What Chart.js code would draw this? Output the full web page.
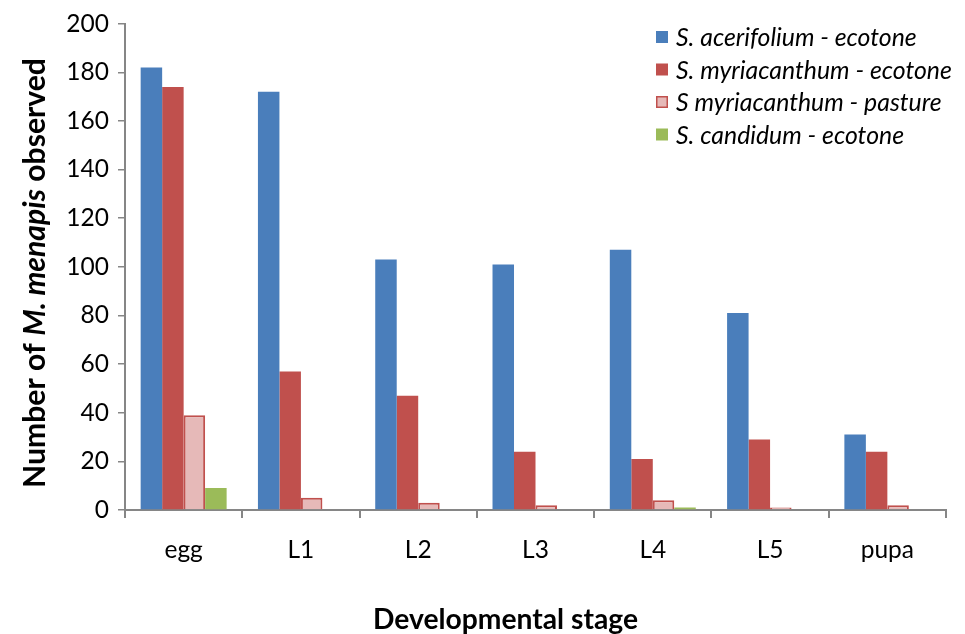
<!DOCTYPE html>
<html><head><meta charset="utf-8">
<script src="https://cdn.jsdelivr.net/npm/chart.js@4/dist/chart.umd.min.js"></script>
<style>html,body{margin:0;padding:0;background:#fff}#wrap{width:965px;height:634px}</style>
</head><body><div id="wrap"><canvas id="c" width="965" height="634"></canvas></div>
<script>
const categories = ["egg", "L1", "L2", "L3", "L4", "L5", "pupa"];
const seriesNames = ["S. acerifolium - ecotone", "S. myriacanthum - ecotone", "S myriacanthum - pasture", "S. candidum - ecotone"];
const acerifoliumEcotone = [182, 172, 103, 101, 107, 81, 31];
const myriacanthumEcotone = [174, 57, 47, 24, 21, 29, 24];
const myriacanthumPasture = [39, 5, 3, 2, 4, 1, 2];
const candidumEcotone = [9, 0, 0, 0, 1, 0, 0];
const yTicks = [0, 20, 40, 60, 80, 100, 120, 140, 160, 180, 200];
const xTitle = "Developmental stage";
const yTitleParts = [["Number of ", "normal"], ["M. menapis", "italic"], [" observed", "normal"]];

const FONT = "Lato, 'Open Sans', sans-serif";
const AXIS = "#868686";

function fitSize(ctx, texts, prefix, target) {
  ctx.save();
  let w = 0;
  texts.forEach(t => { ctx.font = (t[1] === "italic" ? "italic " : "") + prefix + " 100px " + FONT; w += ctx.measureText(t[0]).width; });
  ctx.restore();
  return 100 * target / w;
}

const legendPlugin = {
  id: 'customLegend',
  afterDraw(chart) {
    const ctx = chart.ctx;
    ctx.save();
    const size = fitSize(ctx, [[chart.data.datasets[1].label, "normal"]], "italic", 276);
    const x0 = 656, y0 = 37, step = 32.5;
    chart.data.datasets.forEach((ds, i) => {
      const y = y0 + i * step;
      ctx.fillStyle = ds.backgroundColor;
      ctx.fillRect(x0, y - 6, 12, 12);
      if (ds.borderWidth > 0) {
        ctx.strokeStyle = ds.borderColor;
        ctx.lineWidth = 1.5;
        ctx.strokeRect(x0 + 0.75, y - 5.25, 10.5, 10.5);
      }
      ctx.fillStyle = "#000";
      ctx.font = "italic " + size + "px " + FONT;
      ctx.textBaseline = "middle";
      ctx.textAlign = "left";
      ctx.fillText(ds.label, x0 + 20, y + 1);
    });
    ctx.restore();
  }
};

const titlesPlugin = {
  id: 'titles',
  afterDraw(chart) {
    const ctx = chart.ctx;
    ctx.save();
    ctx.fillStyle = "#000";
    ctx.textBaseline = "middle";
    ctx.textAlign = "center";
    const xs = fitSize(ctx, [[xTitle, "normal"]], "bold", 265);
    ctx.font = "bold " + xs + "px " + FONT;
    ctx.fillText(xTitle, 505.5, 620);
    const ys = fitSize(ctx, yTitleParts, "bold", 430);
    ctx.translate(35, 273);
    ctx.rotate(-Math.PI / 2);
    let total = 0;
    const widths = yTitleParts.map(p => {
      ctx.font = (p[1] === "italic" ? "italic " : "") + "bold " + ys + "px " + FONT;
      const w = ctx.measureText(p[0]).width; total += w; return w;
    });
    let x = -total / 2;
    ctx.textAlign = "left";
    yTitleParts.forEach((p, i) => {
      ctx.font = (p[1] === "italic" ? "italic " : "") + "bold " + ys + "px " + FONT;
      ctx.fillText(p[0], x, 0);
      x += widths[i];
    });
    ctx.restore();
  }
};

new Chart(document.getElementById('c'), {
  type: 'bar',
  data: {
    labels: categories,
    datasets: [
      { label: seriesNames[0], data: acerifoliumEcotone, backgroundColor: "#4A7EBB", borderColor: "#4A7EBB", borderWidth: 0 },
      { label: seriesNames[1], data: myriacanthumEcotone, backgroundColor: "#C0504D", borderColor: "#C0504D", borderWidth: 0 },
      { label: seriesNames[2], data: myriacanthumPasture, backgroundColor: "#E6B9B8", borderColor: "#C0504D", borderWidth: 2 },
      { label: seriesNames[3], data: candidumEcotone, backgroundColor: "#9BBB59", borderColor: "#9BBB59", borderWidth: 0 }
    ]
  },
  options: {
    responsive: false,
    animation: false,
    layout: { padding: { top: 21, right: 19, left: 0, bottom: 0 } },
    plugins: { legend: { display: false }, tooltip: { enabled: false } },
    datasets: { bar: { categoryPercentage: 0.733, barPercentage: 1.0 } },
    scales: {
      x: {
        grid: { display: true, drawOnChartArea: false, drawTicks: true, tickLength: 8, color: AXIS, lineWidth: 2, offset: true },
        border: { display: true, color: AXIS, width: 2 },
        ticks: { color: "#000", font: { family: FONT, size: 24.5 }, padding: 17 },
        afterFit(scale) { scale.height = 124; }
      },
      y: {
        min: 0, max: 200,
        afterBuildTicks(scale) { scale.ticks = yTicks.map(v => ({ value: v })); },
        grid: { display: true, drawOnChartArea: false, drawTicks: true, tickLength: 7, color: AXIS, lineWidth: 1.5 },
        border: { display: true, color: AXIS, width: 2 },
        ticks: { color: "#000", font: { family: FONT, size: 24.5 }, padding: 9 },
        afterFit(scale) { scale.width = 125; }
      }
    }
  },
  plugins: [legendPlugin, titlesPlugin]
});
</script></body></html>
